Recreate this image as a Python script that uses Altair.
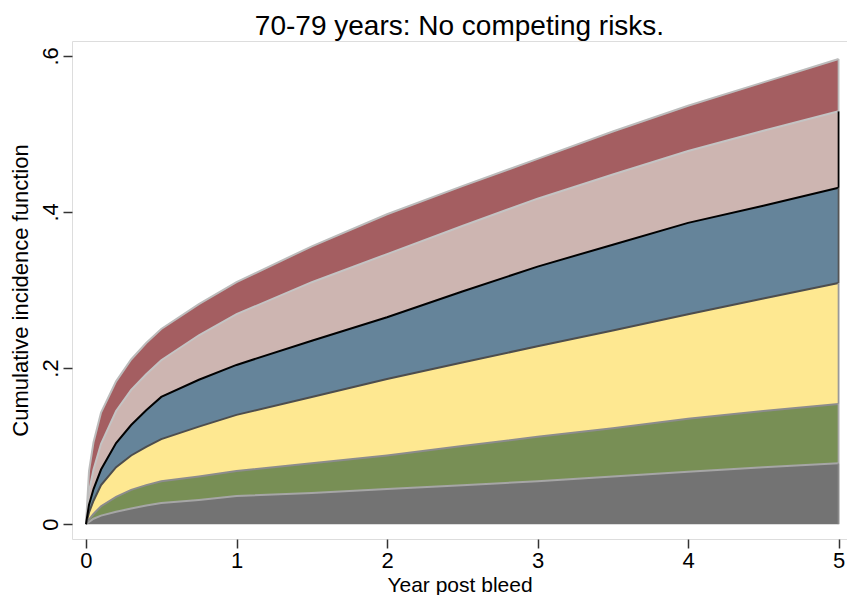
import altair as alt
import pandas as pd

# ---- data ----
years = [0, 0.02, 0.05, 0.1, 0.2, 0.3, 0.4, 0.5, 0.75, 1, 1.5, 2, 2.5, 3, 3.5, 4, 4.5, 5]

cum_gray   = [0, 0.003, 0.007, 0.011, 0.016, 0.020, 0.024, 0.027, 0.031, 0.036, 0.040, 0.045, 0.050, 0.055, 0.061, 0.067, 0.073, 0.078]
cum_green  = [0, 0.006, 0.013, 0.023, 0.035, 0.044, 0.050, 0.055, 0.061, 0.068, 0.078, 0.088, 0.100, 0.112, 0.123, 0.135, 0.145, 0.154]
cum_yellow = [0, 0.015, 0.030, 0.050, 0.073, 0.088, 0.099, 0.109, 0.125, 0.140, 0.163, 0.186, 0.207, 0.228, 0.248, 0.269, 0.289, 0.309]
cum_blue   = [0, 0.025, 0.045, 0.070, 0.104, 0.127, 0.146, 0.163, 0.185, 0.204, 0.235, 0.265, 0.298, 0.330, 0.358, 0.386, 0.408, 0.431]
cum_pink   = [0, 0.042, 0.070, 0.103, 0.145, 0.172, 0.192, 0.210, 0.242, 0.269, 0.310, 0.346, 0.382, 0.417, 0.448, 0.478, 0.504, 0.529]
cum_red    = [0, 0.068, 0.105, 0.143, 0.183, 0.211, 0.232, 0.250, 0.282, 0.310, 0.356, 0.397, 0.433, 0.468, 0.503, 0.536, 0.566, 0.596]

bands = ["gray", "green", "yellow", "blue", "pink", "red"]
fill_colors = ["#737373", "#788f55", "#fee891", "#65849a", "#cdb5b1", "#a45e61"]
line_colors = ["#a6a6a6", "#8c8c8c", "#4d4d4d", "#000000", "#c4c4c4", "#bcbcbc"]
edge_colors = ["#8a8a8a", "#aaaaaa", "#999999", "#555555", "#000000", "#bcbcbc"]

x_ticks = [0, 1, 2, 3, 4, 5]
y_ticks = [0, 0.2, 0.4, 0.6]

# ---- build tables ----
cums = [cum_gray, cum_green, cum_yellow, cum_blue, cum_pink, cum_red]
area_rows, line_rows, edge_rows = [], [], []
for i, b in enumerate(bands):
    lo = [0] * len(years) if i == 0 else cums[i - 1]
    hi = cums[i]
    for t, l, h in zip(years, lo, hi):
        area_rows.append({"t": t, "lo": l, "hi": h, "band": b})
        line_rows.append({"t": t, "hi": h, "band": b})
    edge_rows.append({"t": years[-1], "lo": lo[-1], "hi": hi[-1], "band": b})

area_df = pd.DataFrame(area_rows)
line_df = pd.DataFrame(line_rows)
edge_df = pd.DataFrame(edge_rows)

FONT = "Liberation Sans"
W, H = 775, 498
xs = alt.Scale(domain=[-0.093, 5.056], nice=False, zero=False)
ys = alt.Scale(domain=[-0.019, 0.619], nice=False, zero=False)

xaxis = alt.Axis(values=x_ticks, title="Year post bleed", format="d", domain=False, grid=False,
                 tickSize=9, tickWidth=1.5, tickColor="#333333", labelFontSize=22,
                 labelColor="black", titleFontSize=21, titleFontWeight="normal",
                 titleColor="black", labelPadding=2, titleBaseline="alphabetic",
                 titleY=52, titleAlign="center", labelFont=FONT,
                 titleFont=FONT, labelFlush=False, labelOverlap=False)
yaxis = alt.Axis(values=y_ticks, title="Cumulative incidence function",
                 labelExpr="datum.value == 0 ? '0' : replace(format(datum.value, '.1f'), '0.', '.')",
                 domain=False, grid=False, tickSize=9, tickWidth=1.5, tickColor="#333333",
                 labelFontSize=22, labelColor="black", labelAngle=270, labelAlign="center",
                 labelBaseline="alphabetic", labelPadding=6, titleFontSize=22,
                 titleFontWeight="normal", titleColor="black", titleAngle=270,
                 titleAlign="center", titleBaseline="alphabetic", titleX=-45, titleY=H / 2,
                 labelFont=FONT, titleFont=FONT, labelFlush=False, labelOverlap=False)

X = alt.X("t:Q", scale=xs, axis=xaxis)
Y = alt.Y("hi:Q", scale=ys, axis=yaxis)

areas = alt.Chart(area_df).mark_area(interpolate="linear", strokeWidth=0).encode(
    x=X, y=Y, y2="lo:Q",
    fill=alt.Fill("band:N", scale=alt.Scale(domain=bands, range=fill_colors), legend=None),
)

lines_other = alt.Chart(line_df[line_df.band != "blue"]).mark_line(strokeWidth=2).encode(
    x=X, y=Y,
    stroke=alt.Stroke("band:N", scale=alt.Scale(domain=bands, range=line_colors), legend=None),
)
lines_black = alt.Chart(line_df[line_df.band == "blue"]).mark_line(strokeWidth=2, color="black").encode(
    x=X, y=Y,
)
edges = alt.Chart(edge_df).mark_rule(strokeWidth=1.8).encode(
    x=X, y=Y, y2="lo:Q",
    color=alt.Color("band:N", scale=alt.Scale(domain=bands, range=edge_colors), legend=None),
)

chart = alt.layer(areas, lines_other, lines_black, edges).resolve_scale(
    color="independent", fill="independent", stroke="independent"
).properties(
    width=W, height=H,
    title=alt.TitleParams("70-79 years: No competing risks.", fontSize=28, font=FONT,
                          fontWeight="normal", anchor="middle", frame="group",
                          baseline="alphabetic", offset=10, dy=32, color="black"),
    autosize=alt.AutoSizeParams(type="none"),
    padding={"left": 64, "top": 33, "right": 0, "bottom": 56},
).configure_view(stroke="black", strokeWidth=1.5).configure(background="white")

chart.save("out.html", embed_options={"renderer": "svg", "actions": False})
